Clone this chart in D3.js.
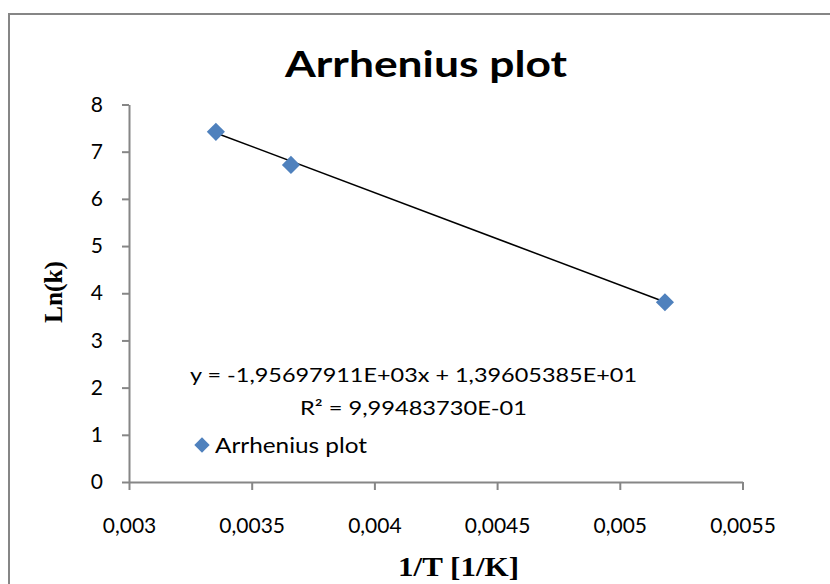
<!DOCTYPE html>
<html>
<head>
<meta charset="utf-8">
<script src="https://cdn.jsdelivr.net/npm/d3@7"></script>
<style>
  html, body { margin: 0; padding: 0; background: #fff; }
  svg { display: block; }
</style>
</head>
<body>
<svg id="chart" width="830" height="584"></svg>
<script>
// ---- data ----
const seriesName = "Arrhenius plot";
const xValues = [0.003354, 0.00366, 0.005184];   // 1/T [1/K]
const yValues = [7.42, 6.72, 3.81];              // Ln(k)
const xTicks = [0.003, 0.0035, 0.004, 0.0045, 0.005, 0.0055];
const yTicks = [0, 1, 2, 3, 4, 5, 6, 7, 8];
const trendSlope = -1956.97911;
const trendIntercept = 13.9605385;
const equationText = "y = -1,95697911E+03x + 1,39605385E+01";
const r2Value = "9,99483730E-01";
const chartTitle = "Arrhenius plot";
const xTitle = "1/T [1/K]";
const yTitle = "Ln(k)";

// ---- layout ----
const svg = d3.select("#chart");
const sans = "Lato, 'Open Sans', sans-serif";
const serif = "'Liberation Serif', 'DejaVu Serif', serif";
const axisColor = "#868686";
const markerColor = "#4F81BD";

svg.append("rect").attr("width", 830).attr("height", 584).attr("fill", "#fff");
// chart border
svg.append("rect")
  .attr("x", 9).attr("y", 14).attr("width", 840).attr("height", 600)
  .attr("fill", "none").attr("stroke", axisColor).attr("stroke-width", 2);

const x = d3.scaleLinear().domain([0.003, 0.0055]).range([129, 742.5]);
const y = d3.scaleLinear().domain([0, 8]).range([482, 104.5]);

const fmt = d => String(d).replace(".", ",");

// x axis
const gx = svg.append("g").attr("transform", `translate(0,${y(0)})`)
  .call(d3.axisBottom(x).tickValues(xTicks).tickFormat(fmt)
        .tickSize(8).tickSizeOuter(0).tickPadding(28));
// y axis
const gy = svg.append("g").attr("transform", `translate(${x(0.003)},0)`)
  .call(d3.axisLeft(y).tickValues(yTicks).tickFormat(d3.format("d"))
        .tickSize(7).tickSizeOuter(0).tickPadding(19));

[gx, gy].forEach(g => {
  g.select(".domain").attr("stroke", axisColor).attr("stroke-width", 2);
  g.selectAll(".tick line").attr("stroke", axisColor).attr("stroke-width", 2);
  g.selectAll(".tick text").attr("fill", "#000")
    .attr("font-family", sans).attr("font-size", 21);
});

// trendline
const tx0 = d3.min(xValues), tx1 = d3.max(xValues);
svg.append("line")
  .attr("x1", x(tx0)).attr("y1", y(trendSlope * tx0 + trendIntercept))
  .attr("x2", x(tx1)).attr("y2", y(trendSlope * tx1 + trendIntercept))
  .attr("stroke", "#000").attr("stroke-width", 1.5);

// markers
const diamond = d3.symbol().type(d3.symbolDiamond2).size(210);
svg.append("g").selectAll("path")
  .data(xValues.map((v, i) => [v, yValues[i]]))
  .join("path")
  .attr("d", diamond)
  .attr("transform", d => `translate(${x(d[0])},${y(d[1])})`)
  .attr("fill", markerColor);

// title
svg.append("text")
  .attr("x", 426).attr("y", 77).attr("text-anchor", "middle")
  .attr("font-family", sans).attr("font-weight", "bold").attr("font-size", 37)
  .attr("textLength", 282).attr("lengthAdjust", "spacingAndGlyphs")
  .text(chartTitle);

// axis titles
svg.append("text")
  .attr("x", 458.5).attr("y", 576).attr("text-anchor", "middle")
  .attr("font-family", serif).attr("font-weight", "bold").attr("font-size", 28)
  .attr("textLength", 121).attr("lengthAdjust", "spacingAndGlyphs")
  .text(xTitle);

svg.append("text")
  .attr("transform", "translate(62,292) rotate(-90)")
  .attr("text-anchor", "middle")
  .attr("font-family", serif).attr("font-weight", "bold").attr("font-size", 26)
  .attr("textLength", 62).attr("lengthAdjust", "spacingAndGlyphs")
  .text(yTitle);

// trendline equation
svg.append("text")
  .attr("x", 190).attr("y", 382)
  .attr("font-family", sans).attr("font-size", 19)
  .attr("textLength", 447).attr("lengthAdjust", "spacingAndGlyphs")
  .text(equationText);

const r2 = svg.append("text")
  .attr("x", 300).attr("y", 415)
  .attr("font-family", sans).attr("font-size", 19)
  .attr("textLength", 227).attr("lengthAdjust", "spacingAndGlyphs");
r2.append("tspan").text("R² = " + r2Value);

// legend
const lg = svg.append("g");
lg.append("path").attr("d", d3.symbol().type(d3.symbolDiamond2).size(150))
  .attr("transform", "translate(202,445)").attr("fill", markerColor);
lg.append("text").attr("x", 215).attr("y", 453)
  .attr("font-family", sans).attr("font-size", 21)
  .attr("textLength", 152).attr("lengthAdjust", "spacingAndGlyphs")
  .text(seriesName);
</script>
</body>
</html>
